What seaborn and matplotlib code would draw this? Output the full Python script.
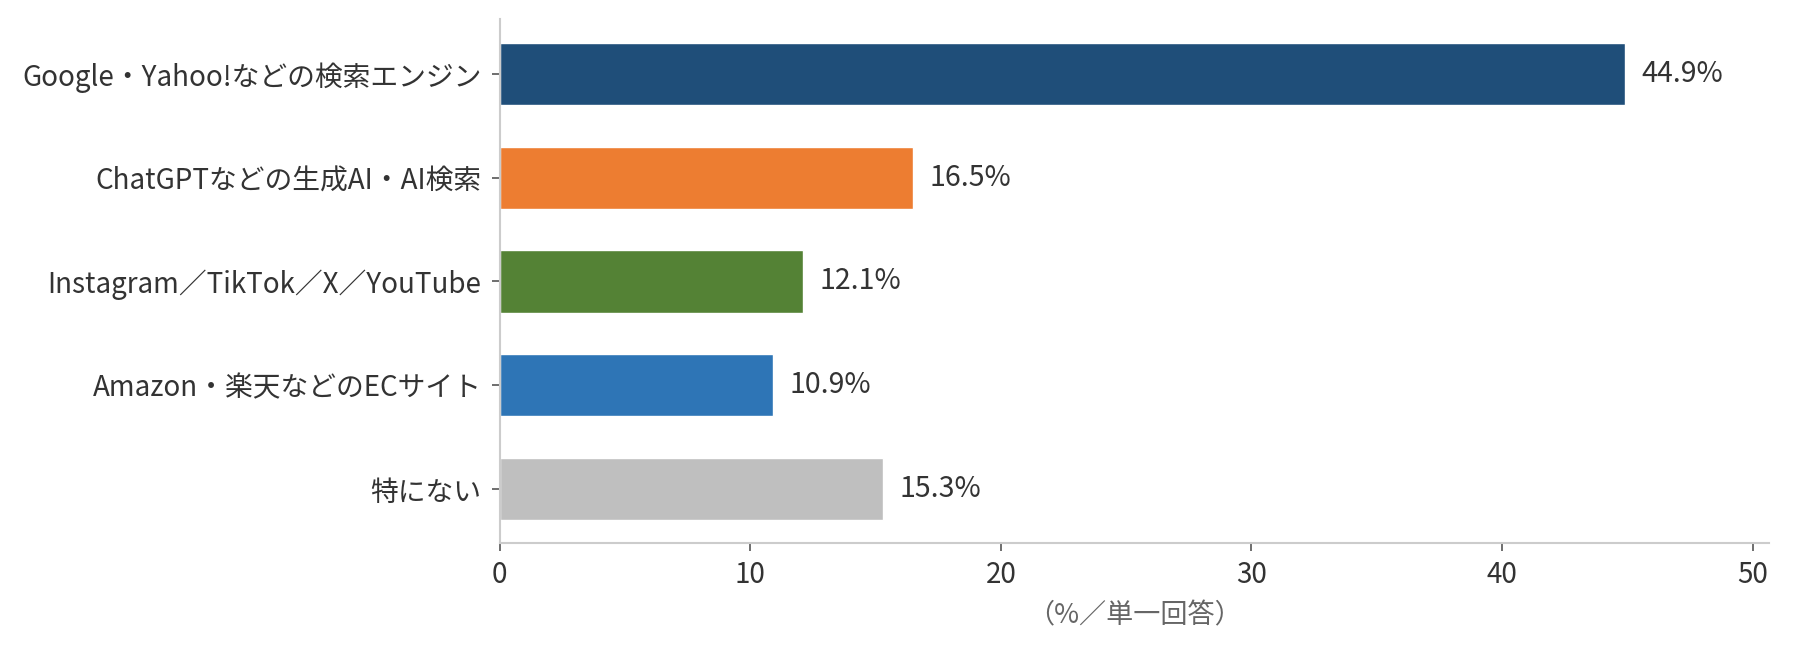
import matplotlib
matplotlib.use("Agg")
import matplotlib.pyplot as plt
import seaborn as sns
import pandas as pd

# データ
categories = [
    "Google・Yahoo!などの検索エンジン",
    "ChatGPTなどの生成AI・AI検索",
    "Instagram／TikTok／X／YouTube",
    "Amazon・楽天などのECサイト",
    "特にない",
]
values = [44.9, 16.5, 12.1, 10.9, 15.3]
colors = ["#1f4e79", "#ed7d31", "#548235", "#2e75b6", "#bfbfbf"]
x_ticks = [0, 10, 20, 30, 40, 50]
x_label = "（%／単一回答）"

df = pd.DataFrame({"category": categories, "value": values})

sns.set_theme(style="white")
plt.rcParams["font.family"] = ["Noto Sans CJK JP", "DejaVu Sans"]

fig, ax = plt.subplots(figsize=(18.2, 6.51), dpi=100)
fig.subplots_adjust(left=0.2745, right=0.972, top=0.971, bottom=0.166)

sns.barplot(data=df, x="value", y="category", hue="category", palette=colors,
            legend=False, width=0.6, saturation=1, ax=ax)

for i, v in enumerate(values):
    ax.text(v + 0.65, i, f"{v}%", va="center", ha="left", fontsize=20.5, color="#333333")

ax.set_xlim(0, 50.65)
ax.set_ylim(4.52, -0.53)
ax.set_xticks(x_ticks)
ax.set_xlabel(x_label, fontsize=19.5, color="#666666", labelpad=9)
ax.set_ylabel("")

for s in ["top", "right"]:
    ax.spines[s].set_visible(False)
for s in ["left", "bottom"]:
    ax.spines[s].set_color("#cccccc")
    ax.spines[s].set_linewidth(1.5)

ax.tick_params(axis="both", which="both", length=6, width=1.2, color="#555555",
               labelsize=20, labelcolor="#333333")
ax.tick_params(axis="y", pad=7)
ax.tick_params(axis="x", pad=6)
ax.tick_params(left=True, bottom=True)

plt.savefig("out.png", dpi=100)
